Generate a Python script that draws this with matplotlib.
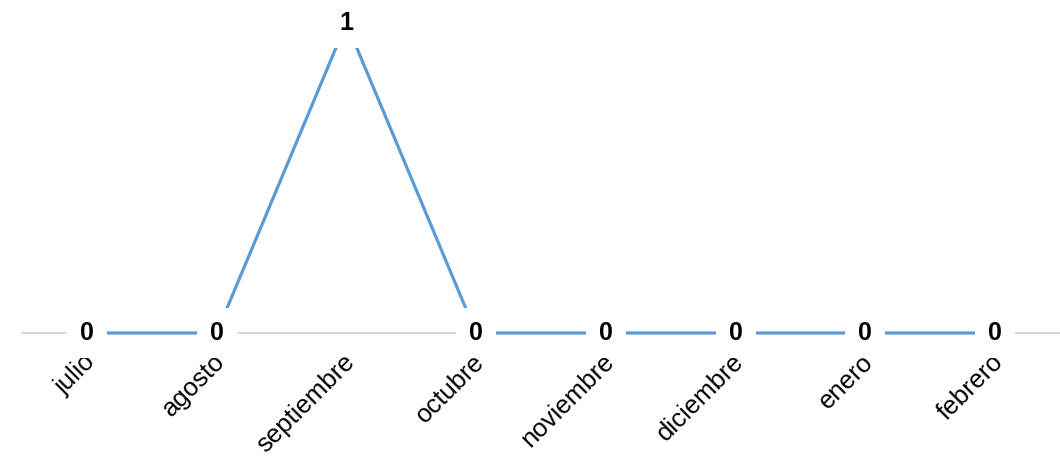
import matplotlib
matplotlib.use("Agg")
import matplotlib.pyplot as plt
from matplotlib import font_manager as fm
from matplotlib.transforms import ScaledTranslation

months = ["julio", "agosto", "septiembre", "octubre", "noviembre", "diciembre", "enero", "febrero"]
values = [0, 0, 1, 0, 0, 0, 0, 0]

plt.rcParams['font.family'] = ['Liberation Sans', 'DejaVu Sans']

W, H = 1060, 457
fig = plt.figure(figsize=(W / 100, H / 100), dpi=100)
ax = fig.add_axes([22 / W, (H - 333) / H, 1038 / W, 310 / H])
ax.set_xlim(-0.5, len(months) - 0.5)
ax.set_ylim(0, 1)

x = list(range(len(months)))
ax.axhline(0, color="#d9d9d9", lw=1.6, zorder=1, clip_on=False)
ax.plot(x, values, color="#5b9bd5", lw=2.3, zorder=2, clip_on=False, solid_capstyle="butt")

for xi, v in zip(x, values):
    ax.text(xi, v, str(v), ha="center", va="center", fontsize=18, fontweight="bold",
            color="black", zorder=5, clip_on=False,
            bbox=dict(boxstyle="square,pad=0.52", fc="white", ec="none"))

ax.set_xticks(x)
ax.set_xticklabels(months, rotation=45, ha="right", rotation_mode="anchor", fontsize=18.5)
ax.tick_params(axis="x", length=0, pad=12)
offset = ScaledTranslation(-4 / 100, 0, fig.dpi_scale_trans)
for lbl in ax.get_xticklabels():
    lbl.set_transform(lbl.get_transform() + offset)
ax.set_yticks([])
for s in ax.spines.values():
    s.set_visible(False)

fig.savefig("out.png", dpi=100)
